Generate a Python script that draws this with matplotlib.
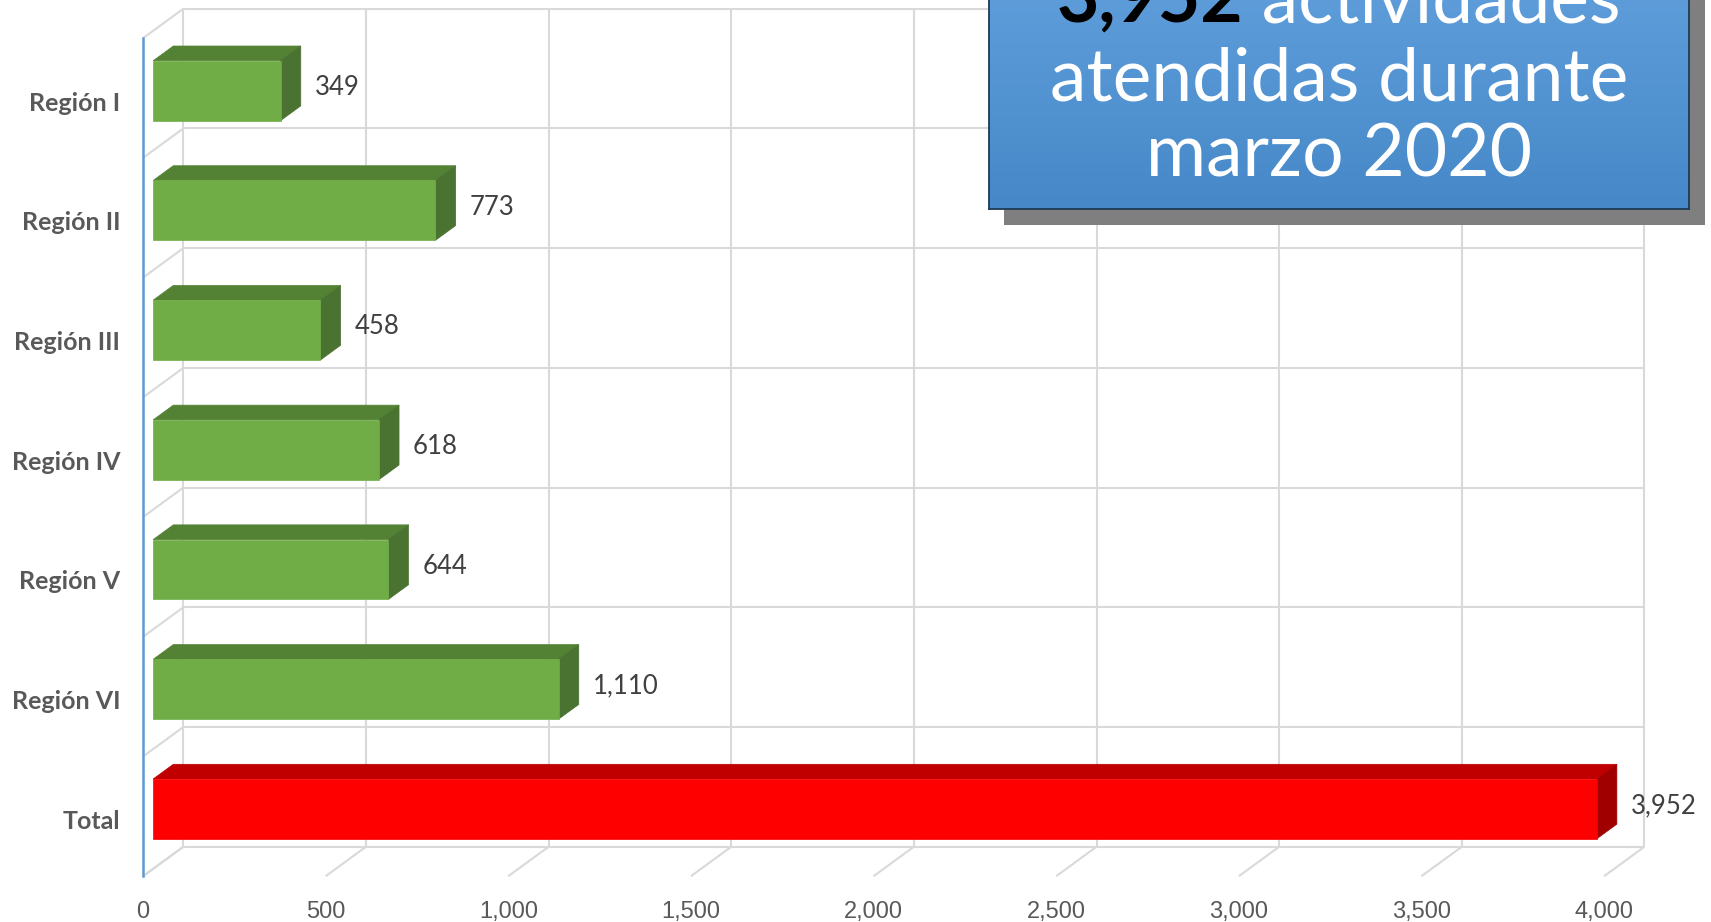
import matplotlib
matplotlib.use('Agg')
import matplotlib.pyplot as plt
import numpy as np
from matplotlib.patches import Polygon, Rectangle
from matplotlib.transforms import Affine2D, ScaledTranslation

# ---------------- data ----------------
categories = ['Región I', 'Región II', 'Región III', 'Región IV', 'Región V', 'Región VI', 'Total']
values = [349, 773, 458, 618, 644, 1110, 3952]
value_labels = ['349', '773', '458', '618', '644', '1,110', '3,952']
is_total = [False, False, False, False, False, False, True]
x_ticks = [0, 500, 1000, 1500, 2000, 2500, 3000, 3500, 4000]
x_tick_labels = ['0', '500', '1,000', '1,500', '2,000', '2,500', '3,000', '3,500', '4,000']
headline_number = '3,952'
headline_rest = ' actividades'
headline_lines = ['atendidas durante', 'marzo 2020']

# ---------------- style ----------------
W, H = 1711, 922
fig = plt.figure(figsize=(W / 100, H / 100), dpi=100)
fig.patch.set_facecolor('white')

GOTHIC = ['Lato', 'DejaVu Sans']
NARROW = ['Liberation Sans Narrow', 'Liberation Sans', 'DejaVu Sans']
GRID = '#D9D9D9'
GREEN_FRONT, GREEN_TOP, GREEN_SIDE = '#70AD47', '#548235', '#4A7230'
RED_FRONT, RED_TOP, RED_SIDE = '#FF0000', '#C00000', '#A00000'

# front plane of the 3-D box, in pixels (from top-left)
FX0, FX1 = 143.0, 1604.1
FY_TOP, FY_BOT = 38.2, 876.2
DEPTH_PX_X, DEPTH_PX_Y = 40.4, 29.5

ax = fig.add_axes([FX0 / W, (H - FY_BOT) / H, (FX1 - FX0) / W, (FY_BOT - FY_TOP) / H])
n = len(categories)
xmax = x_ticks[-1]
ax.set_xlim(0, xmax)
ax.set_ylim(n - 0.5, -0.5)
for s in ax.spines.values():
    s.set_visible(False)
ax.patch.set_alpha(0)

# depth offsets in data units
DXd = DEPTH_PX_X / ((FX1 - FX0) / xmax)
DYd = DEPTH_PX_Y / ((FY_BOT - FY_TOP) / n)


def P(x, y, d):
    return (x + d * DXd, y - d * DYd)


gkw = dict(color=GRID, lw=1.5, clip_on=False, zorder=1, solid_capstyle='butt')
ytop, ybot = -0.5, n - 0.5
for xv in x_ticks:
    a, b = P(xv, ytop, 1), P(xv, ybot, 1)
    ax.plot([a[0], b[0]], [a[1], b[1]], **gkw)
    a, b = P(xv, ybot, 0), P(xv, ybot, 1)
    ax.plot([a[0], b[0]], [a[1], b[1]], **gkw)
for k in range(n + 1):
    yb = k - 0.5
    a, b = P(0, yb, 1), P(xmax, yb, 1)
    ax.plot([a[0], b[0]], [a[1], b[1]], **gkw)
    a, b = P(0, yb, 0), P(0, yb, 1)
    ax.plot([a[0], b[0]], [a[1], b[1]], **gkw)

ax.plot([0, 0], [ytop, ybot], color='#5B9BD5', lw=1.8, clip_on=False, zorder=2)

# 3-D bars
hh = 0.25
d0, d1 = 0.25, 0.75
for i, (v, tot) in enumerate(zip(values, is_total)):
    fc, tc, sc = (RED_FRONT, RED_TOP, RED_SIDE) if tot else (GREEN_FRONT, GREEN_TOP, GREEN_SIDE)
    yt, yb = i - hh, i + hh
    top = [P(0, yt, d0), P(v, yt, d0), P(v, yt, d1), P(0, yt, d1)]
    side = [P(v, yt, d0), P(v, yb, d0), P(v, yb, d1), P(v, yt, d1)]
    front = [P(0, yt, d0), P(v, yt, d0), P(v, yb, d0), P(0, yb, d0)]
    for poly, c in ((top, tc), (side, sc), (front, fc)):
        ax.add_patch(Polygon(poly, closed=True, facecolor=c, edgecolor=c, lw=0.5,
                             clip_on=False, zorder=3))
    lx, ly = P(v, i, 0.5)
    ax.annotate(value_labels[i], (lx, ly), xytext=(24, -4), textcoords='offset pixels',
                ha='left', va='center', fontsize=18.5, color='#404040',
                family=GOTHIC, zorder=4, annotation_clip=False)

# ticks
ax.set_xticks(x_ticks)
ax.set_xticklabels(x_tick_labels, family=NARROW, fontsize=17, color='#595959')
ax.set_yticks(range(n))
ax.set_yticklabels(categories, family=GOTHIC, fontsize=18, fontweight='bold', color='#595959')
ax.tick_params(axis='x', length=0, pad=18)
ax.tick_params(axis='y', length=0, pad=16.5)
shift = ScaledTranslation(0, -3 / 100, fig.dpi_scale_trans)
for lbl in ax.get_yticklabels():
    lbl.set_transform(lbl.get_transform() + shift)

# ---------------- headline box ----------------
BL, BR, BB = 988.6, 1689.2, 209.5
SH = 15.5
above = 80
fig.patches.append(Rectangle(((BL + SH) / W, (H - BB - SH) / H), (BR - BL) / W, (BB + above) / H,
                             transform=fig.transFigure, facecolor='#7F7F7F', edgecolor='none',
                             zorder=5))
bax = fig.add_axes([BL / W, (H - BB) / H, (BR - BL) / W, (BB + above) / H], zorder=6)
top_c = np.array([0x66, 0xA4, 0xE0]) / 255
bot_c = np.array([0x46, 0x88, 0xC8]) / 255
t = np.linspace(0, 1, 256)[:, None]
grad = (top_c[None, :] * (1 - t) + bot_c[None, :] * t)[:, None, :]
bax.imshow(grad, aspect='auto', extent=[0, 1, 0, 1], origin='upper')
bax.set_xticks([])
bax.set_yticks([])
for s in bax.spines.values():
    s.set_color('#1F3A57')
    s.set_linewidth(1.3)

pix = Affine2D().scale(1, -1).translate(0, H)
CX = (BL + BR) / 2
base_y = [22, 100, 176]
fs = 50
renderer = fig.canvas.get_renderer()
probe = fig.text(0, 0, headline_lines[0], fontsize=fs, family=GOTHIC)
w_probe = probe.get_window_extent(renderer).width
probe.remove()
fs = fs * 578.0 / w_probe

t1 = fig.text(0, base_y[0], headline_number, transform=pix, fontsize=fs, family=GOTHIC,
              fontweight='bold', color='black', ha='left', va='baseline', zorder=10)
t2 = fig.text(0, base_y[0], headline_rest, transform=pix, fontsize=fs, family=GOTHIC,
              color='white', ha='left', va='baseline', zorder=10)
w1 = t1.get_window_extent(renderer).width
w2 = t2.get_window_extent(renderer).width
x_start = CX - (w1 + w2) / 2
t1.set_x(x_start)
t2.set_x(x_start + w1)
for line, yb in zip(headline_lines, base_y[1:]):
    fig.text(CX, yb, line, transform=pix, fontsize=fs, family=GOTHIC,
             color='white', ha='center', va='baseline', zorder=10)

fig.savefig('out.png', dpi=100)
